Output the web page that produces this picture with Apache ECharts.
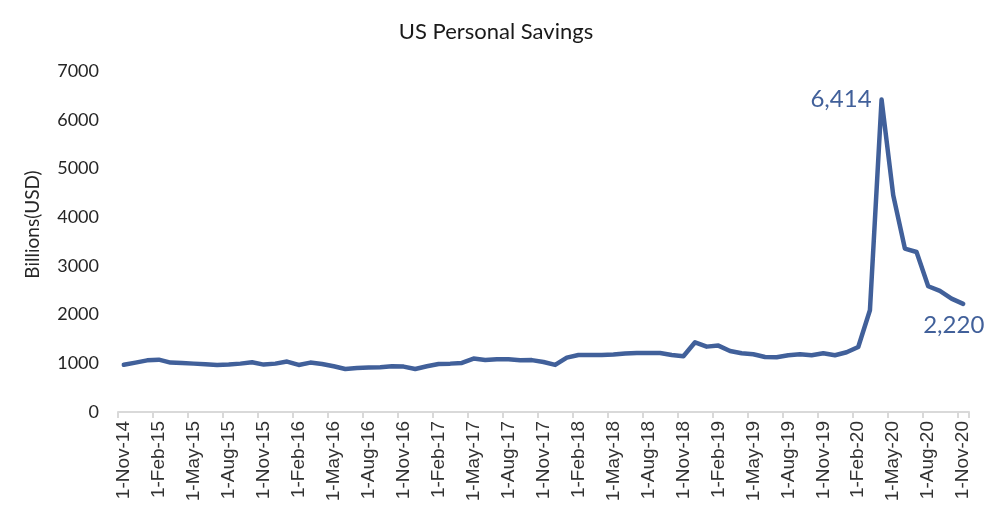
<!DOCTYPE html>
<html>
<head>
<meta charset="utf-8">
<script src="https://cdn.jsdelivr.net/npm/echarts@6/dist/echarts.min.js"></script>
<style>
html,body{margin:0;padding:0;background:#fff;}
#chart{width:992px;height:519px;}
</style>
</head>
<body>
<div id="chart"></div>
<script>
var titleText = "US Personal Savings";
var yAxisName = "Billions(USD)";
var categories = [
"1-Nov-14","1-Dec-14","1-Jan-15","1-Feb-15","1-Mar-15","1-Apr-15","1-May-15","1-Jun-15","1-Jul-15","1-Aug-15","1-Sep-15","1-Oct-15",
"1-Nov-15","1-Dec-15","1-Jan-16","1-Feb-16","1-Mar-16","1-Apr-16","1-May-16","1-Jun-16","1-Jul-16","1-Aug-16","1-Sep-16","1-Oct-16",
"1-Nov-16","1-Dec-16","1-Jan-17","1-Feb-17","1-Mar-17","1-Apr-17","1-May-17","1-Jun-17","1-Jul-17","1-Aug-17","1-Sep-17","1-Oct-17",
"1-Nov-17","1-Dec-17","1-Jan-18","1-Feb-18","1-Mar-18","1-Apr-18","1-May-18","1-Jun-18","1-Jul-18","1-Aug-18","1-Sep-18","1-Oct-18",
"1-Nov-18","1-Dec-18","1-Jan-19","1-Feb-19","1-Mar-19","1-Apr-19","1-May-19","1-Jun-19","1-Jul-19","1-Aug-19","1-Sep-19","1-Oct-19",
"1-Nov-19","1-Dec-19","1-Jan-20","1-Feb-20","1-Mar-20","1-Apr-20","1-May-20","1-Jun-20","1-Jul-20","1-Aug-20","1-Sep-20","1-Oct-20",
"1-Nov-20"
];
var savings = [
970,1014,1060,1075,1014,1005,993,980,966,973,993,1020,
973,993,1035,966,1014,986,938,883,904,911,918,938,
932,883,938,986,993,1007,1096,1068,1082,1082,1061,1065,
1027,966,1117,1171,1171,1171,1178,1199,1212,1212,1212,1171,
1144,1431,1342,1363,1253,1205,1185,1130,1123,1164,1185,1164,
1205,1164,1226,1335,2088,6414,4450,3355,3285,2581,2485,2328,
2220
];
var peakIndex = 65;
var lastIndex = 72;
var yMin = 0, yMax = 7000, yStep = 1000;

var lineColor = "#41609A";
function fmt(pr) { return Number(pr.value).toLocaleString("en-US"); }
var dataPoints = savings.map(function (v, i) {
  var p = { value: v, symbol: "none" };
  if (i === peakIndex) {
    p.symbol = "circle"; p.symbolSize = 2;
    p.label = { show: true, position: "left", distance: 9, formatter: fmt };
  } else if (i === lastIndex) {
    p.symbol = "circle"; p.symbolSize = 2;
    p.label = { show: true, position: [-39, 10], align: "left", verticalAlign: "top", formatter: fmt };
  }
  return p;
});

var chart = echarts.init(document.getElementById("chart"), null, { renderer: "canvas" });
chart.setOption({
  backgroundColor: "#ffffff",
  animation: false,
  title: {
    text: titleText,
    left: "center",
    top: 16,
    textStyle: { fontFamily: "Lato", fontSize: 22, fontWeight: "normal", color: "#1a1a1a" }
  },
  grid: { left: 118, right: 23, top: 71, bottom: 107, containLabel: false },
  xAxis: {
    type: "category",
    data: categories,
    boundaryGap: true,
    axisLine: { show: true, lineStyle: { color: "#d9d9d9", width: 2 } },
    axisTick: { show: true, interval: 2, length: 6, lineStyle: { color: "#d9d9d9", width: 2 } },
    axisLabel: {
      interval: 2,
      rotate: 90,
      margin: 9,
      fontFamily: "Liberation Sans",
      fontSize: 19,
      color: "#333333"
    },
    splitLine: { show: false }
  },
  yAxis: {
    type: "value",
    min: yMin,
    max: yMax,
    interval: yStep,
    name: yAxisName,
    nameLocation: "middle",
    nameGap: 76,
    nameRotate: 90,
    nameTextStyle: { fontFamily: "Lato", fontSize: 19, color: "#262626", padding: [0, 0, 0, 34] },
    axisLine: { show: false },
    axisTick: { show: false },
    splitLine: { show: false },
    axisLabel: { margin: 19, fontFamily: "Lato", fontSize: 18, color: "#262626", formatter: function (v) { return String(v); } }
  },
  series: [{
    type: "line",
    data: dataPoints,
    showSymbol: true,
    showAllSymbol: true,
    lineStyle: { color: lineColor, width: 4.5, join: "round", cap: "round" },
    itemStyle: { color: lineColor, borderWidth: 0 },
    label: { show: false, fontFamily: "Lato", fontSize: 24, color: lineColor },
    labelLayout: { hideOverlap: false },
    z: 3
  }]
});
</script>
</body>
</html>
